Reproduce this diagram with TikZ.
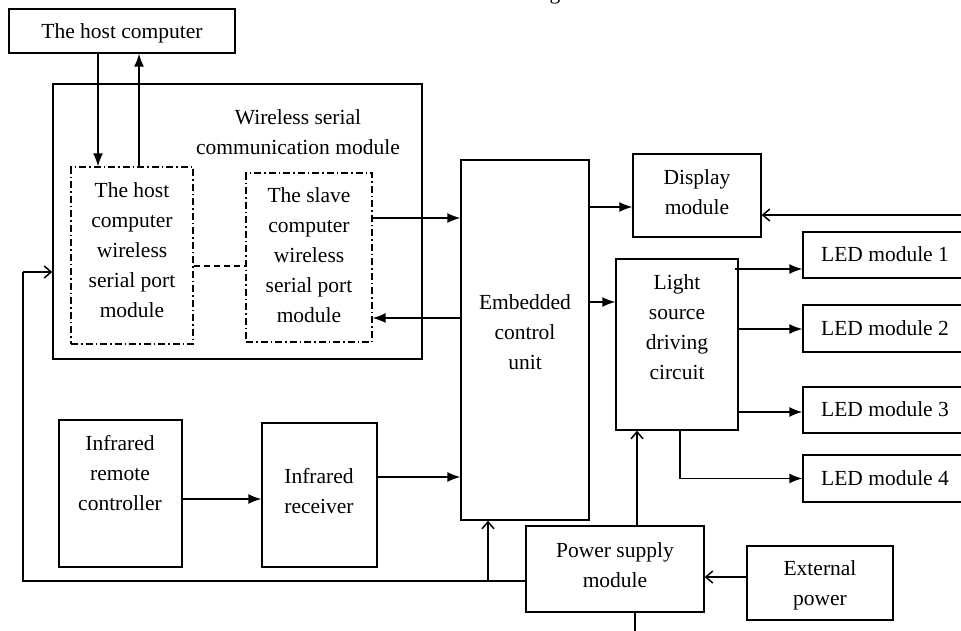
\documentclass[tikz,border=0pt]{standalone}
\usepackage{fontspec}
\setmainfont{Liberation Serif}
\usetikzlibrary{arrows.meta}
\begin{document}
\begin{tikzpicture}[x=1pt,y=-1pt,
  box/.style={draw, line width=1.3pt, rectangle, inner sep=0pt},
  dbox/.style={draw, line width=1.2pt, dash pattern=on 7pt off 3pt on 1.5pt off 3pt, inner sep=0pt},
  txt/.style={align=center, inner sep=0pt, font=\fontsize{21.5}{30}\selectfont},
  conn/.style={line width=1.5pt},
  fa/.style={conn, -{Latex[length=13pt,width=10pt]}},
  oa/.style={conn, -{Straight Barb[length=7pt,width=12pt]}},
]
\useasboundingbox (0,0) rectangle (961,630);

% boxes
\node[box, minimum width=226pt, minimum height=44pt] (host) at (122,31) {};
\node[box, minimum width=369pt, minimum height=275pt] (wl) at (237.5,221.5) {};
\node[dbox, minimum width=122pt, minimum height=177pt] (hws) at (132,255.5) {};
\node[dbox, minimum width=126pt, minimum height=169pt] (sws) at (309,257.5) {};
\node[box, minimum width=128pt, minimum height=360pt] (emb) at (525,340) {};
\node[box, minimum width=128pt, minimum height=83pt] (disp) at (697,195.5) {};
\node[box, minimum width=122pt, minimum height=171pt] (light) at (677,344.5) {};
\node[box, minimum width=164pt, minimum height=46pt] (led1) at (885,255) {};
\node[box, minimum width=164pt, minimum height=47pt] (led2) at (885,328.5) {};
\node[box, minimum width=164pt, minimum height=46pt] (led3) at (885,410) {};
\node[box, minimum width=164pt, minimum height=47pt] (led4) at (885,478.5) {};
\node[box, minimum width=123pt, minimum height=147pt] (irc) at (120.5,493.5) {};
\node[box, minimum width=115pt, minimum height=144pt] (irr) at (319.5,495) {};
\node[box, minimum width=178pt, minimum height=86pt] (pow) at (615,569) {};
\node[box, minimum width=146pt, minimum height=74pt] (ext) at (820,583) {};

% texts
\node[txt] (hostT) at (122,33) {The host computer};
\node[txt] (wlT) at (298,132) {Wireless serial\\communication module};
\node[txt] (hwsT) at (132,250.5) {The host\\computer\\wireless\\serial port\\module};
\node[txt] (swsT) at (309,255.5) {The slave\\computer\\wireless\\serial port\\module};
\node[txt] (embT) at (525,332) {Embedded\\control\\unit};
\node[txt] (dispT) at (697,192) {Display\\module};
\node[txt] (lightT) at (677,327.5) {Light\\source\\driving\\circuit};
\node[txt] (led1T) at (885,254) {LED module 1};
\node[txt] (led2T) at (885,328) {LED module 2};
\node[txt] (led3T) at (885,409) {LED module 3};
\node[txt] (led4T) at (885,478) {LED module 4};
\node[txt] (ircT) at (120,473) {Infrared\\remote\\controller};
\node[txt] (irrT) at (319,491) {Infrared\\receiver};
\node[txt] (powT) at (615,565) {Power supply\\module};
\node[txt] (extT) at (820,585) {External\\power};
\node[txt, anchor=south] (gT) at (555,4) {g};

% coordinates
\coordinate (dispIn) at (965,215);
\coordinate (corner1) at (23,581);
\coordinate (corner2) at (23,272);
\coordinate (jEmb) at (488,581);
\coordinate (powDown) at (635,634);

% connectors
\draw[fa] (98,0 |- host.south) -- (98,0 |- hws.north);
\draw[fa] (139,0 |- hws.north) -- (139,0 |- host.south);
\draw[line width=1.2pt, dash pattern=on 6pt off 4pt] (hws.east |- 0,266) -- (sws.west |- 0,266);
\draw[fa] (sws.east |- 0,218) -- (emb.west |- 0,218);
\draw[fa] (emb.west |- 0,318) -- (sws.east |- 0,318);
\draw[fa] (emb.east |- 0,207) -- (disp.west |- 0,207);
\draw[oa] (dispIn) -- (disp.east |- dispIn);
\draw[fa] (emb.east |- 0,302) -- (light.west |- 0,302);
\draw[fa] (735,269) -- (led1.west |- 0,269);
\draw[fa] (light.east |- 0,329) -- (led2.west |- 0,329);
\draw[fa] (light.east |- 0,412) -- (led3.west |- 0,412);
\draw[fa] (680,0 |- light.south) |- (led4.west);
\draw[fa] (irc.east |- 0,499) -- (irr.west |- 0,499);
\draw[fa] (irr.east |- 0,477) -- (emb.west |- 0,477);
\draw[oa] (ext.west |- 0,577) -- (pow.east |- 0,577);
\draw[conn] (pow.west |- corner1) -- (corner1) -- (corner2);
\draw[oa] (corner2) -- (wl.west |- corner2);
\draw[oa] (jEmb) -- (jEmb |- emb.south);
\draw[oa] (637,0 |- pow.north) -- (637,0 |- light.south);
\draw[conn] (powDown |- pow.south) -- (powDown);
\end{tikzpicture}
\end{document}
